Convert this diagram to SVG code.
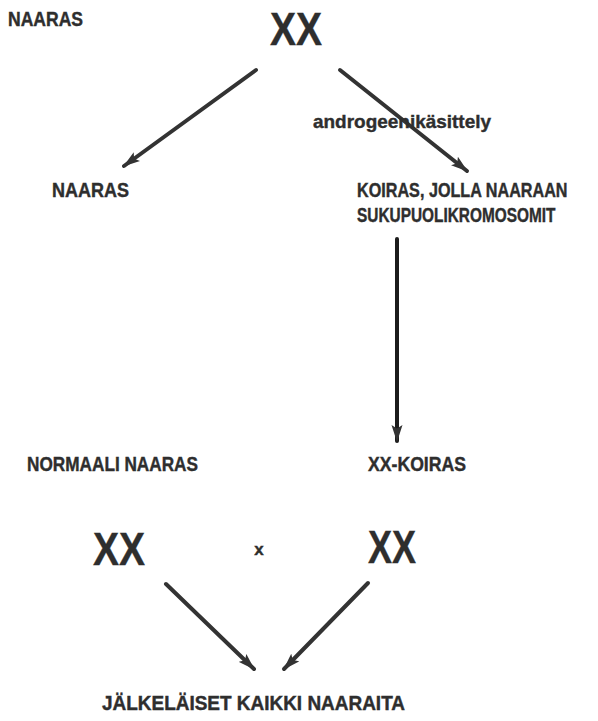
<svg xmlns="http://www.w3.org/2000/svg" width="598" height="721" viewBox="0 0 598 721">
<style>
.t{font-family:"Liberation Sans",Arial,sans-serif;font-weight:bold;fill:#2e2e2e;stroke:#2e2e2e;stroke-width:0.4;}
.lbl{font-size:19.5px;}
.xx{font-size:46px;}
.c{fill:none;stroke:#333;stroke-width:4;stroke-linecap:round;}
</style>
<defs>
<marker id="ah" markerWidth="18" markerHeight="12" refX="16" refY="6" orient="auto" markerUnits="userSpaceOnUse">
<path d="M0,0.5 L17,6 L0,11.5 L3.5,6 Z" fill="#333"/>
</marker>
</defs>
<rect width="598" height="721" fill="#fff"/>
<g id="connectors">
<line class="c" x1="256" y1="70" x2="124" y2="166" marker-end="url(#ah)"/>
<line class="c" x1="340" y1="70" x2="467" y2="171" marker-end="url(#ah)"/>
<line class="c" x1="397" y1="239" x2="397" y2="441" style="stroke:#1c1c1c" marker-end="url(#ah)"/>
<line class="c" x1="166" y1="584" x2="254" y2="669" marker-end="url(#ah)"/>
<line class="c" x1="368" y1="583" x2="284" y2="669" marker-end="url(#ah)"/>
</g>
<g id="label-naaras-top"><text class="t lbl" x="8" y="26" textLength="75" lengthAdjust="spacingAndGlyphs">NAARAS</text></g>
<g id="node-xx-top"><text class="t xx" x="270" y="45" textLength="52" lengthAdjust="spacingAndGlyphs">XX</text></g>
<g id="label-androgeeni"><text class="t" x="313" y="128" font-size="19" textLength="178" lengthAdjust="spacingAndGlyphs">androgeenikäsittely</text></g>
<g id="node-naaras"><text class="t lbl" x="52" y="197" textLength="77" lengthAdjust="spacingAndGlyphs">NAARAS</text></g>
<g id="node-koiras">
<text class="t lbl" transform="translate(357,197) scale(0.83,1)">KOIRAS, JOLLA NAARAAN</text>
<text class="t lbl" transform="translate(357,222) scale(0.79,1)">SUKUPUOLIKROMOSOMIT</text>
</g>
<g id="node-normaali-naaras"><text class="t lbl" x="27" y="471" textLength="171" lengthAdjust="spacingAndGlyphs">NORMAALI NAARAS</text></g>
<g id="node-xx-koiras"><text class="t lbl" x="368" y="471" textLength="98" lengthAdjust="spacingAndGlyphs">XX-KOIRAS</text></g>
<g id="node-xx-left"><text class="t xx" x="93" y="565" textLength="52" lengthAdjust="spacingAndGlyphs">XX</text></g>
<g id="label-x"><text class="t" x="259" y="555" font-size="17" text-anchor="middle">x</text></g>
<g id="node-xx-right"><text class="t xx" x="368" y="563" textLength="48" lengthAdjust="spacingAndGlyphs">XX</text></g>
<g id="node-jalkelaiset"><text class="t lbl" x="102" y="710" textLength="303" lengthAdjust="spacingAndGlyphs">JÄLKELÄISET KAIKKI NAARAITA</text></g>
</svg>
